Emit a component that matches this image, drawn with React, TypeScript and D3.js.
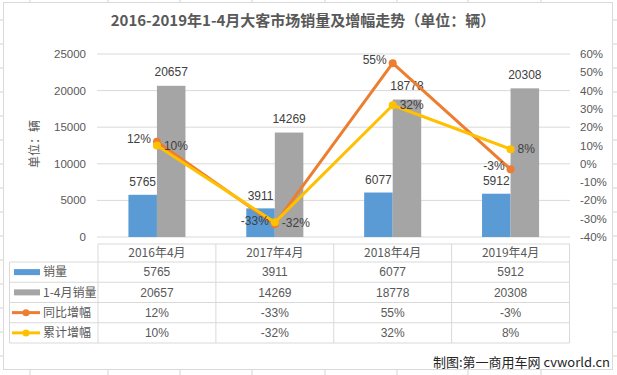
import React from "react";
import * as d3 from "d3";

const categories = ["2016年4月", "2017年4月", "2018年4月", "2019年4月"];
const sales = [5765, 3911, 6077, 5912];
const cumSales = [20657, 14269, 18778, 20308];
const yoy = [12, -33, 55, -3];
const cumGrowth = [10, -32, 32, 8];
const leftTicks = [0, 5000, 10000, 15000, 20000, 25000];
const rightTicks = [-40, -30, -20, -10, 0, 10, 20, 30, 40, 50, 60];
const seriesNames = ["销量", "1-4月销量", "同比增幅", "累计增幅"];

const W = 617, H = 375;
const BLUE = "#5B9BD5", GRAY = "#A5A5A5", ORANGE = "#ED7D31", YELLOW = "#FFC000";
const TXT = "#595959";
const GRID = "#D9D9D9";
const NUMF = "'Liberation Sans', 'Noto Sans CJK SC', sans-serif";
const CJK = "'Noto Sans CJK SC', 'Liberation Sans', sans-serif";

export default function App() {
  const x = d3.scaleBand<string>().domain(categories).range([98, 569.5]).padding(0);
  const yL = d3.scaleLinear().domain([0, 25000]).range([237, 54]);
  const yR = d3.scaleLinear().domain([-40, 60]).range([237, 54]);
  const bw = x.bandwidth() * 0.242;
  const cx = (c: string) => (x(c) as number) + x.bandwidth() / 2;

  const lineGen = d3
    .line<number>()
    .x((_, i) => cx(categories[i]))
    .y((d) => yR(d));

  const headerTop = 244, headerBot = 262;
  const rowH = 20.25;
  const tableLeft = 9.5;
  const rowTops = [0, 1, 2, 3, 4].map((i) => headerBot + i * rowH);
  const tableRows = [
    sales.map(String),
    cumSales.map(String),
    yoy.map((v) => v + "%"),
    cumGrowth.map((v) => v + "%"),
  ];

  const colX = [...categories.map((c) => x(c) as number), 569.5];

  const sheetRows = d3.range(20, 375, 24);
  const sheetCols = [30, 108, 180, 252, 325, 397, 468, 541];

  return (
    <svg
      width={W}
      height={H}
      style={{ position: "absolute", left: 0, top: 0, background: "#fff" }}
    >
      {sheetRows.map((y) => (
        <g key={"sr" + y}>
          <line x1={0} x2={3} y1={y} y2={y} stroke="#D4D4D4" />
          <line x1={613} x2={617} y1={y} y2={y} stroke="#D4D4D4" />
        </g>
      ))}
      {sheetCols.map((c) => (
        <g key={"sc" + c}>
          <line x1={c} x2={c} y1={0} y2={2} stroke="#D4D4D4" />
          <line x1={c} x2={c} y1={370} y2={375} stroke="#D4D4D4" />
        </g>
      ))}
      <rect x={3.5} y={2.5} width={609} height={367} fill="#fff" stroke="#D9D9D9" />

      <text
        x={303}
        y={26}
        textAnchor="middle"
        fontFamily={CJK}
        fontWeight="bold"
        fontSize={15}
        fill={TXT}
      >
        2016-2019年1-4月大客市场销量及增幅走势（单位：辆）
      </text>

      {leftTicks.map((t) => (
        <line key={"g" + t} x1={97} x2={570} y1={yL(t)} y2={yL(t)} stroke={GRID} strokeWidth={1} />
      ))}
      {leftTicks.map((t) => (
        <text
          key={"lt" + t}
          x={86}
          y={yL(t)}
          dy="0.35em"
          textAnchor="end"
          fontFamily={NUMF}
          fontSize={11.5}
          fill={TXT}
        >
          {t}
        </text>
      ))}
      {rightTicks.map((t) => (
        <text
          key={"rt" + t}
          x={580}
          y={yR(t)}
          dy="0.35em"
          textAnchor="start"
          fontFamily={NUMF}
          fontSize={11.5}
          fill={TXT}
        >
          {t + "%"}
        </text>
      ))}
      <text
        transform={`translate(39,144) rotate(-90)`}
        textAnchor="middle"
        fontFamily={CJK}
        fontSize={12}
        fill={TXT}
      >
        单位：辆
      </text>

      {categories.map((c, i) => (
        <g key={"b" + c}>
          <rect x={cx(c) - bw} y={yL(sales[i])} width={bw} height={yL(0) - yL(sales[i])} fill={BLUE} />
          <rect x={cx(c)} y={yL(cumSales[i])} width={bw} height={yL(0) - yL(cumSales[i])} fill={GRAY} />
          <text
            x={cx(c) - bw / 2}
            y={yL(sales[i]) - 13}
            dy="0.35em"
            textAnchor="middle"
            fontFamily={NUMF}
            fontSize={12}
            fill="#404040"
          >
            {sales[i]}
          </text>
          <text
            x={cx(c) + bw / 2}
            y={yL(cumSales[i]) - 14}
            dy="0.35em"
            textAnchor="middle"
            fontFamily={NUMF}
            fontSize={12}
            fill="#404040"
          >
            {cumSales[i]}
          </text>
        </g>
      ))}

      <path d={lineGen(yoy) as string} fill="none" stroke={ORANGE} strokeWidth={3} strokeLinejoin="round" />
      {yoy.map((v, i) => (
        <circle key={"oy" + i} cx={cx(categories[i])} cy={yR(v)} r={4} fill={ORANGE} />
      ))}
      <path d={lineGen(cumGrowth) as string} fill="none" stroke={YELLOW} strokeWidth={3} strokeLinejoin="round" />
      {cumGrowth.map((v, i) => (
        <circle key={"cg" + i} cx={cx(categories[i])} cy={yR(v)} r={4} fill={YELLOW} />
      ))}
      {yoy.map((v, i) => (
        <text
          key={"oyl" + i}
          x={cx(categories[i]) - 6}
          y={yR(v) - 3}
          dy="0.35em"
          textAnchor="end"
          fontFamily={NUMF}
          fontSize={12}
          fill="#404040"
        >
          {v + "%"}
        </text>
      ))}
      {cumGrowth.map((v, i) => (
        <text
          key={"cgl" + i}
          x={cx(categories[i]) + 7}
          y={yR(v)}
          dy="0.35em"
          textAnchor="start"
          fontFamily={NUMF}
          fontSize={12}
          fill="#404040"
        >
          {v + "%"}
        </text>
      ))}

      <line x1={98} x2={569.5} y1={headerTop} y2={headerTop} stroke={GRID} />
      {rowTops.map((y, i) => (
        <line key={"th" + i} x1={tableLeft} x2={569.5} y1={y} y2={y} stroke={GRID} />
      ))}
      <line x1={tableLeft} x2={tableLeft} y1={headerBot} y2={rowTops[4]} stroke={GRID} />
      {colX.map((cxv, i) => (
        <line key={"tv" + i} x1={cxv} x2={cxv} y1={headerTop} y2={rowTops[4]} stroke={GRID} />
      ))}
      {categories.map((c) => (
        <text
          key={"hd" + c}
          x={cx(c)}
          y={(headerTop + headerBot) / 2}
          dy="0.35em"
          textAnchor="middle"
          fontFamily={CJK}
          fontSize={12}
          fill={TXT}
        >
          {c}
        </text>
      ))}
      {tableRows.map((row, r) =>
        row.map((v, i) => (
          <text
            key={"tc" + r + "-" + i}
            x={cx(categories[i])}
            y={rowTops[r] + rowH / 2}
            dy="0.35em"
            textAnchor="middle"
            fontFamily={NUMF}
            fontSize={12}
            fill={TXT}
          >
            {v}
          </text>
        ))
      )}
      {seriesNames.map((n, r) => {
        const yc = rowTops[r] + rowH / 2;
        return (
          <g key={"lg" + n}>
            {r < 2 ? (
              <rect x={14} y={yc - 3} width={26} height={6} fill={r === 0 ? BLUE : GRAY} />
            ) : (
              <g>
                <line x1={12} x2={40} y1={yc} y2={yc} stroke={r === 2 ? ORANGE : YELLOW} strokeWidth={3} />
                <circle cx={26} cy={yc} r={3.5} fill={r === 2 ? ORANGE : YELLOW} />
              </g>
            )}
            <text x={43} y={yc} dy="0.35em" fontFamily={CJK} fontSize={12} fill={TXT}>
              {n}
            </text>
          </g>
        );
      })}

      <text
        x={610}
        y={362}
        dy="0.35em"
        textAnchor="end"
        fontFamily={CJK}
        fontSize={13}
        fill="#262626"
      >
        制图:第一商用车网 cvworld.cn
      </text>
    </svg>
  );
}
